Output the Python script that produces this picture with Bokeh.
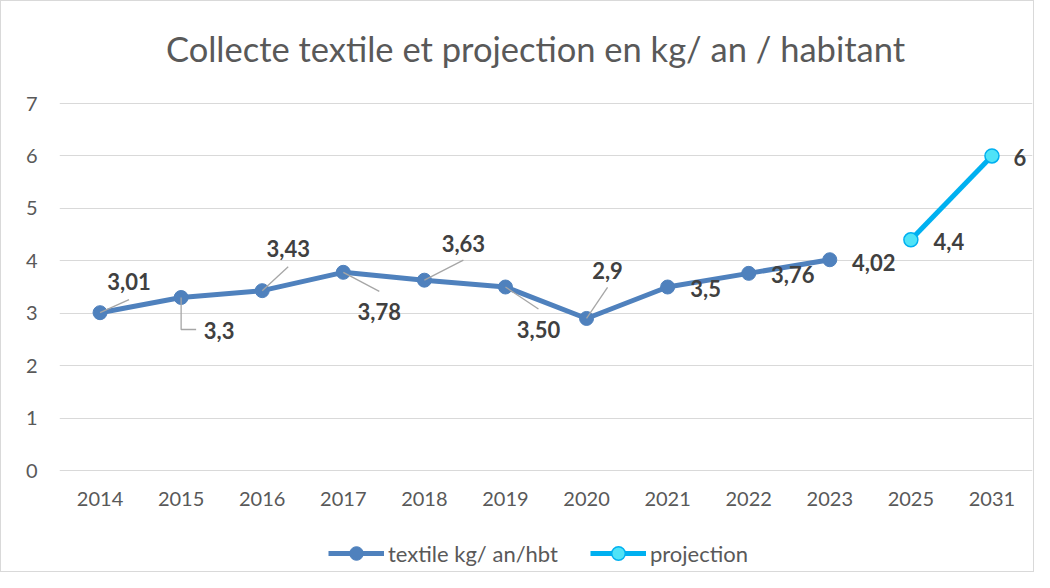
from bokeh.plotting import figure
from bokeh.models import (ColumnDataSource, Range1d, FixedTicker, Legend, LegendItem)
from bokeh.core.properties import value
from bokeh.embed import file_html
from bokeh.resources import INLINE

# ---------------- data ----------------
title_text = "Collecte textile et projection en kg/ an / habitant"
categories = ["2014", "2015", "2016", "2017", "2018", "2019", "2020",
              "2021", "2022", "2023", "2025", "2031"]
textile = [3.01, 3.3, 3.43, 3.78, 3.63, 3.50, 2.9, 3.5, 3.76, 4.02]
textile_labels = ["3,01", "3,3", "3,43", "3,78", "3,63", "3,50", "2,9",
                  "3,5", "3,76", "4,02"]
projection = [4.4, 6]
projection_labels = ["4,4", "6"]
y_ticks = [0, 1, 2, 3, 4, 5, 6, 7]

# ---------------- layout / style ----------------
W, H = 1034, 572
BL, BR, BT, BB = 58, 3, 2, 2
ZERO_PX = 469                     # pixel row of value 0 (from figure top)
PX_Y = 367 / 7.0                  # pixels per unit of value
FRAME_W = W - BL - BR
PX_X = FRAME_W / len(categories)
Y_MAX = (ZERO_PX - BT) / PX_Y
Y_MIN = -((H - BB) - ZERO_PX) / PX_Y
TITLE_PX = (534, 47)              # title centre in figure pixels

BLUE = "#4F81BD"
CYAN = "#00B0F0"
CYAN_FILL = "#4FE3F7"
GRID = "#D9D9D9"
TXT = "#595959"
LBL = "#404040"
LEAD = "#A6A6A6"
FONT = "Lato"

# label offsets in screen px (dx right, dy down)
textile_label_off = [(29, -31), (38, 33), (26, -42), (36, 39), (39, -37), (33, 42),
                     (21, -48), (38, 1), (44, 1), (44, 3)]
projection_label_off = [(38, 2), (28, 2)]
# leader line paths (screen px from point), by point index
leader_paths = {0: [(0, 0), (29, -13)],
                1: [(0, 0), (0, 32), (15, 32)],
                2: [(0, 0), (26, -24)],
                3: [(0, 0), (36, 19)],
                4: [(0, 0), (39, -20)],
                5: [(0, 0), (33, 22)],
                6: [(0, 0), (21, -31)]}

tx = list(range(len(textile)))
px = [len(textile) + i for i in range(len(projection))]

p = figure(width=W, height=H, output_backend="svg", toolbar_location=None,
           x_range=Range1d(-0.5, len(categories) - 0.5), y_range=Range1d(Y_MIN, Y_MAX),
           min_border_left=BL, min_border_right=BR, min_border_top=BT,
           min_border_bottom=BB)
p.styles = {"border": "1px solid #D9D9D9"}
p.outline_line_color = None
p.background_fill_color = "white"
p.border_fill_color = "white"

# title (drawn inside the extended frame)
p.text(x=[-0.5 + (TITLE_PX[0] - BL) / PX_X], y=[(ZERO_PX - TITLE_PX[1]) / PX_Y],
       text=[title_text], text_align="center", text_baseline="middle",
       text_font=value(FONT), text_font_size="34.5px", text_color=TXT)

p.xgrid.grid_line_color = None
p.ygrid.grid_line_color = GRID
p.ygrid.grid_line_width = 1
p.ygrid.ticker = FixedTicker(ticks=y_ticks)

p.yaxis.ticker = FixedTicker(ticks=y_ticks)
p.xaxis.ticker = FixedTicker(ticks=list(range(len(categories))))
p.xaxis.major_label_overrides = {i: c for i, c in enumerate(categories)}
p.xaxis.fixed_location = 0
for ax in (p.xaxis, p.yaxis):
    ax.axis_line_color = None
    ax.major_tick_line_color = None
    ax.minor_tick_line_color = None
    ax.major_tick_out = 0
    ax.major_tick_in = 0
    ax.major_label_text_font = FONT
    ax.major_label_text_font_size = "20px"
    ax.major_label_text_color = TXT
p.yaxis.major_label_standoff = 22
p.xaxis.major_label_standoff = 21

# series
src1 = ColumnDataSource(dict(x=tx, y=textile, lab=textile_labels,
                             dx=[o[0] for o in textile_label_off],
                             dy=[o[1] for o in textile_label_off]))
src2 = ColumnDataSource(dict(x=px, y=projection, lab=projection_labels,
                             dx=[o[0] for o in projection_label_off],
                             dy=[o[1] for o in projection_label_off]))

l1 = p.line("x", "y", source=src1, line_color=BLUE, line_width=5)
m1 = p.scatter("x", "y", source=src1, size=14, fill_color=BLUE, line_color=BLUE)
l2 = p.line("x", "y", source=src2, line_color=CYAN, line_width=5)
m2 = p.scatter("x", "y", source=src2, size=14, fill_color=CYAN_FILL, line_color=CYAN,
               line_width=1.5)

# leader lines
xs, ys = [], []
for i, path in leader_paths.items():
    xs.append([tx[i] + a / PX_X for a, b in path])
    ys.append([textile[i] - b / PX_Y for a, b in path])
p.multi_line(xs, ys, line_color=LEAD, line_width=1.3)

for src in (src1, src2):
    p.text("x", "y", text="lab", source=src, x_offset="dx", y_offset="dy",
           text_align="center", text_baseline="middle",
           text_font=value(FONT), text_font_size="22px", text_font_style="bold",
           text_color=LBL)

legend = Legend(items=[LegendItem(label="textile kg/ an/hbt", renderers=[l1, m1]),
                       LegendItem(label="projection", renderers=[l2, m2])],
                orientation="horizontal", location=(269, 1),
                glyph_width=56, glyph_height=34, label_height=20,
                label_standoff=4, spacing=32, padding=0, margin=0,
                border_line_color=None, background_fill_alpha=0,
                label_text_font=FONT, label_text_font_size="22px",
                label_text_color=TXT)
p.add_layout(legend, "center")

open("out.html", "w").write(file_html(p, INLINE))
